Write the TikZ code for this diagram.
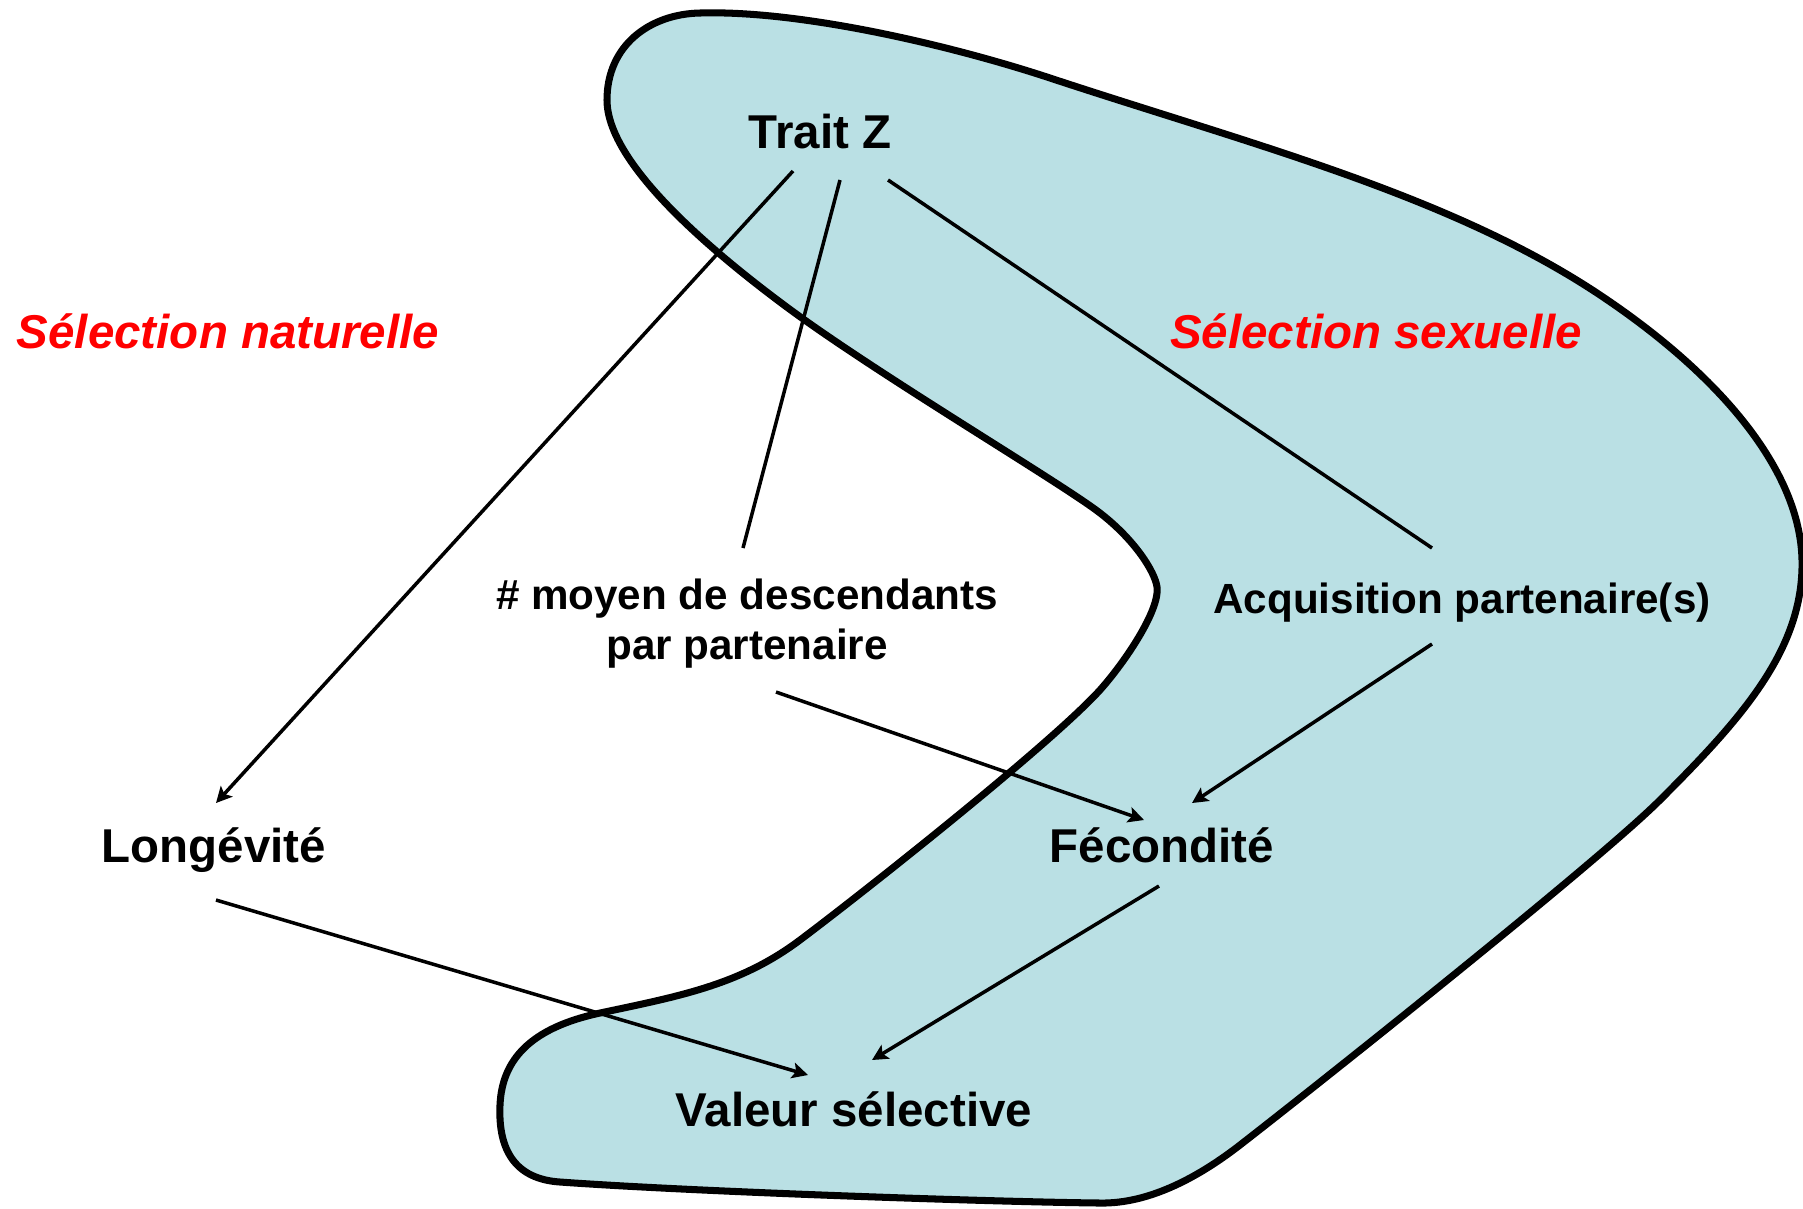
\documentclass[tikz,border=0pt]{standalone}
\usepackage{fontspec}
\setmainfont{Liberation Sans}
\usetikzlibrary{arrows.meta}
\definecolor{blobblue}{RGB}{186,224,228}
\definecolor{selred}{RGB}{255,0,0}

\begin{document}
\begin{tikzpicture}[x=0.01cm,y=-0.01cm,
  blob/.style={fill=blobblue, draw=black, line width=2pt},
  lbl/.style={font=\fontsize{13.5}{16}\selectfont\bfseries, inner sep=0pt, anchor=base},
  lblsmall/.style={font=\fontsize{12}{14.2}\selectfont\bfseries, inner sep=0pt},
  sel/.style={lbl, text=selred, font=\fontsize{13.5}{16}\selectfont\bfseries\itshape},
  link/.style={line width=1pt},
  arr/.style={link, -{Stealth[length=4.5pt,width=4.5pt,inset=1pt]}}]
\useasboundingbox (0,0) rectangle (1803,1208);
\draw[blob] (607,100) .. controls (607,45) and (650,14) .. (700,13)
  .. controls (800,10) and (950,45) .. (1050,78)
  .. controls (1250,144) and (1450,195) .. (1600,295)
  .. controls (1720,375) and (1800,470) .. (1802,560)
  .. controls (1804,650) and (1740,720) .. (1660,800)
  .. controls (1600,860) and (1330,1075) .. (1240,1145)
  .. controls (1200,1176) and (1150,1204) .. (1100,1203)
  .. controls (1000,1202) and (700,1192) .. (560,1182)
  .. controls (515,1179) and (498,1150) .. (500,1105)
  .. controls (502,1060) and (530,1028) .. (600,1013)
  .. controls (680,996) and (740,985) .. (800,940)
  .. controls (860,895) and (1050,745) .. (1100,690)
  .. controls (1125,662) and (1160,610) .. (1157,587)
  .. controls (1155,572) and (1135,540) .. (1100,513)
  .. controls (1060,482) and (870,370) .. (780,302)
  .. controls (700,242) and (607,160) .. cycle;

\node[lbl] (trait) at (820,148) {Trait Z};
\node[sel] (nat) at (228,348) {Sélection naturelle};
\node[sel] (sex) at (1376,348) {Sélection sexuelle};
\node[lblsmall, align=center] (moyen) at (747,624) {\# moyen de descendants\\par partenaire};
\node[lblsmall, anchor=base] (acq) at (1462,613) {Acquisition partenaire(s)};
\node[lbl] (longevite) at (214,862) {Longévité};
\node[lbl] (fec) at (1162,862) {Fécondité};
\node[lbl] (valeur) at (854,1126) {Valeur sélective};

\draw[arr] ([shift={(-27,23)}]trait.base) -- ([shift={(2,-59)}]longevite.base);
\draw[link] ([shift={(20,32)}]trait.base) -- ([shift={(-4,-76)}]moyen.center);
\draw[link] ([shift={(68,32)}]trait.base) -- ([shift={(-30,-65)}]acq.base);
\draw[arr] ([shift={(29,68)}]moyen.center) -- ([shift={(-18,-42)}]fec.base);
\draw[arr] ([shift={(-30,31)}]acq.base) -- ([shift={(30,-59)}]fec.base);
\draw[arr] ([shift={(2,38)}]longevite.base) -- ([shift={(-46,-51)}]valeur.base);
\draw[arr] ([shift={(-3,24)}]fec.base) -- ([shift={(18,-66)}]valeur.base);
\end{tikzpicture}
\end{document}
